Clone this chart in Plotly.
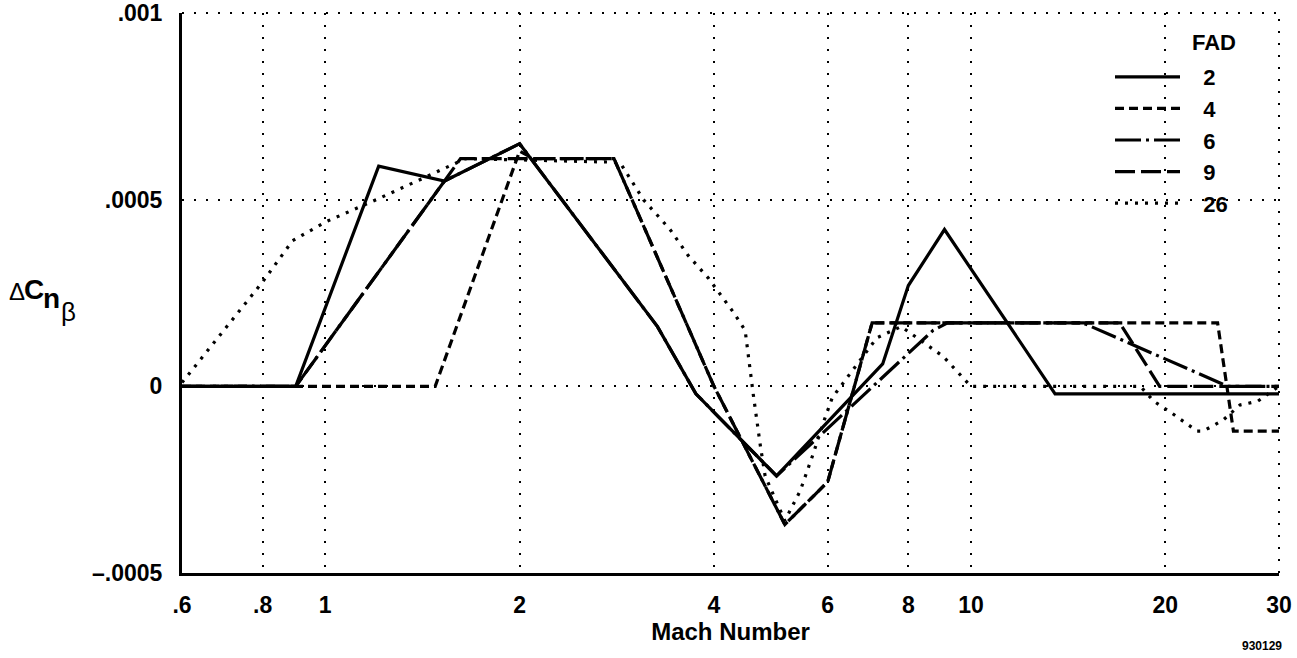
import plotly.graph_objects as go

# Mach number / delta Cn-beta increments for each FAD configuration
mach_fad2 = [0.6, 0.9, 1.21, 1.53, 2.0, 3.27, 3.75, 5.0, 7.3, 8.0, 9.1, 13.5, 30]
dcn_fad2 = [0, 0, 0.00059, 0.00055, 0.00065, 0.00016, -0.00002, -0.00024,
            0.00006, 0.00027, 0.00042, -0.00002, -0.00002]

mach_fad4 = [0.6, 1.48, 2.0, 2.1, 2.8, 4.0, 5.15, 6.0, 7.03, 24.1, 25.5, 30]
dcn_fad4 = [0, 0, 0.00063, 0.00061, 0.00061, 0, -0.00037, -0.000256,
            0.00017, 0.00017, -0.00012, -0.00012]

mach_fad6 = [0.6, 0.9, 1.53, 2.0, 3.27, 3.75, 5.0, 8.74, 9.2, 14.9, 25.0, 30]
dcn_fad6 = [0, 0, 0.00055, 0.00065, 0.00016, -0.00002, -0.00024, 0.00015,
            0.00017, 0.00017, 0, 0]

mach_fad9 = [0.6, 0.9, 1.53, 1.62, 2.8, 4.0, 5.15, 6.0, 7.03, 17.0, 19.6, 30]
dcn_fad9 = [0, 0, 0.00055, 0.00061, 0.00061, 0, -0.00037, -0.000256,
            0.00017, 0.00017, 0, 0]

mach_fad26 = [0.6, 0.8, 0.89, 1.0, 1.2, 1.56, 1.65, 2.86, 3.11, 3.42, 3.65,
              3.92, 4.28, 4.47, 4.52, 4.6, 4.72, 4.8, 5.15, 5.44, 5.7, 5.9,
              6.1, 7.15, 7.8, 8.58, 9.06, 10.0, 18.3, 19.2, 20.4, 22.4, 22.9,
              24.6, 26.1, 27.8, 30]
dcn_fad26 = [0.00001, 0.00028, 0.00039, 0.00044, 0.0005, 0.00059, 0.00061,
             0.0006, 0.0005, 0.00042, 0.00035, 0.00029, 0.0002, 0.00015,
             0.00008, -0.00002, -0.00016, -0.00024, -0.00036, -0.00028,
             -0.00018, -0.0001, -0.00003, 0.00013, 0.00016, 0.00011, 0.00008,
             0.0, 0.0, -0.00004, -0.00007, -0.00012, -0.00012, -0.00009,
             -0.00005, -0.00004, 0.0]

x_tickvals = [0.6, 0.8, 1, 2, 4, 6, 8, 10, 20, 30]
x_ticktext = [".6", ".8", "1", "2", "4", "6", "8", "10", "20", "30"]
y_tickvals = [-0.0005, 0, 0.0005, 0.001]
y_ticktext = ["\u2013.0005", "0", ".0005", ".001"]

series = [
    ("2", mach_fad2, dcn_fad2, "solid"),
    ("4", mach_fad4, dcn_fad4, "9px,5px"),
    ("6", mach_fad6, dcn_fad6, "26px,5px,3px,5px"),
    ("9", mach_fad9, dcn_fad9, "20px,6px"),
    ("26", mach_fad26, dcn_fad26, "3px,7px"),
]

FONT = "Liberation Sans, Arial, sans-serif"
GRID_DASH = "2px,10px"
PAD = "\u00a0\u00a0\u00a0"

fig = go.Figure()
for name, xs, ys, dash in series:
    fig.add_trace(go.Scatter(
        x=xs, y=ys, mode="lines", name=PAD + name,
        line=dict(color="black", width=3.2, dash=dash),
    ))

# plot area in pixels: left 182, right 1279, top 13, bottom 573
L, R, T, B = 182, 1279, 13, 573


def px(x):
    return (x - L) / (R - L)


def py(y):
    return (B - y) / (B - T)


fig.update_layout(
    width=1297, height=658,
    margin=dict(l=L, r=1297 - R, t=T, b=658 - B, autoexpand=False),
    paper_bgcolor="white", plot_bgcolor="white",
    font=dict(family=FONT, color="black", size=23, weight="bold"),
    showlegend=True,
    legend=dict(
        x=px(1110), y=py(56), xanchor="left", yanchor="top",
        bgcolor="rgba(0,0,0,0)", borderwidth=0,
        font=dict(size=22, family=FONT, weight="bold"),
        itemwidth=65, tracegroupgap=0,
    ),
    xaxis=dict(
        type="log", range=[-0.2218487, 1.4771213], automargin=False,
        tickvals=x_tickvals, ticktext=x_ticktext,
        showgrid=True, gridcolor="black", gridwidth=2, griddash=GRID_DASH,
        showline=True, linecolor="black", linewidth=3,
        ticks="", ticklabelstandoff=9, zeroline=False,
        title=dict(text="Mach Number", standoff=6,
                   font=dict(size=24, family=FONT, weight="bold")),
    ),
    yaxis=dict(
        range=[-0.0005, 0.001], automargin=False,
        tickvals=y_tickvals, ticktext=y_ticktext,
        showgrid=True, gridcolor="black", gridwidth=2, griddash=GRID_DASH,
        showline=True, linecolor="black", linewidth=3,
        ticks="", ticklabelstandoff=12, zeroline=False,
    ),
)

# dotted frame along the top and right edges of the plot area
fig.add_shape(type="line", xref="paper", yref="paper", x0=0, x1=1, y0=1, y1=1,
              line=dict(color="black", width=2, dash=GRID_DASH), layer="below")
fig.add_shape(type="line", xref="paper", yref="paper", x0=1, x1=1, y0=0, y1=1,
              line=dict(color="black", width=2, dash=GRID_DASH), layer="below")

# y-axis label: Delta C sub n sub beta
fig.add_annotation(text="\u0394", x=px(7), y=py(291), xref="paper", yref="paper",
                   xanchor="left", yanchor="middle", showarrow=False,
                   font=dict(size=24, family=FONT, weight="normal"))
fig.add_annotation(text="C", x=px(22), y=py(289), xref="paper", yref="paper",
                   xanchor="left", yanchor="middle", showarrow=False,
                   font=dict(size=28, family=FONT, weight="bold"))
fig.add_annotation(text="n", x=px(41), y=py(298), xref="paper", yref="paper",
                   xanchor="left", yanchor="middle", showarrow=False,
                   font=dict(size=28, family=FONT, weight="bold"))
fig.add_annotation(text="\u03b2", x=px(59), y=py(312), xref="paper", yref="paper",
                   xanchor="left", yanchor="middle", showarrow=False,
                   font=dict(size=26, family=FONT, weight="normal"))

fig.add_annotation(text="FAD", x=px(1214), y=py(42), xref="paper", yref="paper",
                   xanchor="center", yanchor="middle", showarrow=False,
                   font=dict(size=22, family=FONT, weight="bold"))
fig.add_annotation(text="930129", x=px(1262), y=py(646), xref="paper", yref="paper",
                   xanchor="center", yanchor="middle", showarrow=False,
                   font=dict(size=12, family=FONT, weight="bold"))

fig.write_html("out.html")
